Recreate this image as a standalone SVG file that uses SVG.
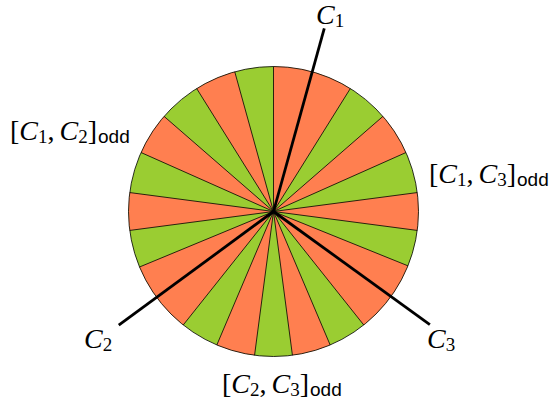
<svg xmlns="http://www.w3.org/2000/svg" width="550" height="405" viewBox="0 0 550 405">
<style>
.o{fill:#FF7F50;stroke:none}
.b{stroke:#000;stroke-width:0.8;fill:none}
.c{stroke:#000;stroke-width:2.8;fill:none}
text{font-family:"Liberation Serif",serif;font-size:28px;fill:#000}
.i{font-style:italic}
.s{font-size:19px}
.sf{font-family:"Liberation Sans",sans-serif;font-size:19px}
</style>
<rect width="550" height="405" fill="#fff"/>
<g id="wheel">
<circle cx="273.5" cy="211.5" r="145" fill="#9ACD32"/>
<path class="o" d="M273.5,211.5 L417.26,230.43 A145,145 0 0 0 417.26,192.57 Z"/>
<path class="o" d="M273.5,211.5 L405.96,152.52 A145,145 0 0 0 382.93,116.37 Z"/>
<path class="o" d="M273.5,211.5 L350.34,88.53 A145,145 0 0 0 273.5,66.5 Z"/>
<path class="o" d="M273.5,211.5 L234.75,71.77 A145,145 0 0 0 196.66,88.53 Z"/>
<path class="o" d="M273.5,211.5 L164.07,116.37 A145,145 0 0 0 141.04,152.52 Z"/>
<path class="o" d="M273.5,211.5 L129.74,192.57 A145,145 0 0 0 129.74,230.43 Z"/>
<path class="o" d="M273.5,211.5 L139.54,266.99 A145,145 0 0 0 183.24,324.98 Z"/>
<path class="o" d="M273.5,211.5 L216.84,344.97 A145,145 0 0 0 254.57,355.26 Z"/>
<path class="o" d="M273.5,211.5 L292.43,355.26 A145,145 0 0 0 330.16,344.97 Z"/>
<path class="o" d="M273.5,211.5 L363.76,324.98 A145,145 0 0 0 407.94,265.82 Z"/>
<path class="b" d="M273.5,211.5 L417.26,192.57 M273.5,211.5 L405.96,152.52 M273.5,211.5 L382.93,116.37 M273.5,211.5 L350.34,88.53 M273.5,211.5 L273.5,66.5 M273.5,211.5 L234.75,71.77 M273.5,211.5 L196.66,88.53 M273.5,211.5 L164.07,116.37 M273.5,211.5 L141.04,152.52 M273.5,211.5 L129.74,192.57 M273.5,211.5 L129.74,230.43 M273.5,211.5 L139.54,266.99 M273.5,211.5 L183.24,324.98 M273.5,211.5 L216.84,344.97 M273.5,211.5 L254.57,355.26 M273.5,211.5 L292.43,355.26 M273.5,211.5 L330.16,344.97 M273.5,211.5 L363.76,324.98 M273.5,211.5 L407.94,265.82 M273.5,211.5 L417.26,230.43"/>
<circle class="b" cx="273.5" cy="211.5" r="145"/>
</g>
<g id="connectors">
<line id="line-C1" class="c" x1="273.5" y1="211.5" x2="324.28" y2="28.41"/>
<line id="line-C2" class="c" x1="273.5" y1="211.5" x2="118.76" y2="325.17"/>
<line id="line-C3" class="c" x1="273.5" y1="211.5" x2="429.85" y2="324.65"/>
</g>
<g id="label-C1"><text x="316" y="24"><tspan class="i">C</tspan><tspan class="s" dy="3">1</tspan></text></g>
<g id="label-C2"><text x="84" y="348"><tspan class="i">C</tspan><tspan class="s" dy="3">2</tspan></text></g>
<g id="label-C3"><text x="427" y="348"><tspan class="i">C</tspan><tspan class="s" dy="3">3</tspan></text></g>
<g id="label-C1C2"><text x="10" y="140">[<tspan class="i">C</tspan><tspan class="s" dy="3">1</tspan><tspan dy="-3">,</tspan><tspan class="i" dx="5">C</tspan><tspan class="s" dy="3">2</tspan><tspan dy="-3">]</tspan><tspan class="sf" dx="1" dy="3">odd</tspan></text></g>
<g id="label-C1C3"><text x="429" y="183">[<tspan class="i">C</tspan><tspan class="s" dy="3">1</tspan><tspan dy="-3">,</tspan><tspan class="i" dx="5">C</tspan><tspan class="s" dy="3">3</tspan><tspan dy="-3">]</tspan><tspan class="sf" dx="1" dy="3">odd</tspan></text></g>
<g id="label-C2C3"><text x="222" y="393">[<tspan class="i">C</tspan><tspan class="s" dy="3">2</tspan><tspan dy="-3">,</tspan><tspan class="i" dx="5">C</tspan><tspan class="s" dy="3">3</tspan><tspan dy="-3">]</tspan><tspan class="sf" dx="1" dy="3">odd</tspan></text></g>
</svg>
